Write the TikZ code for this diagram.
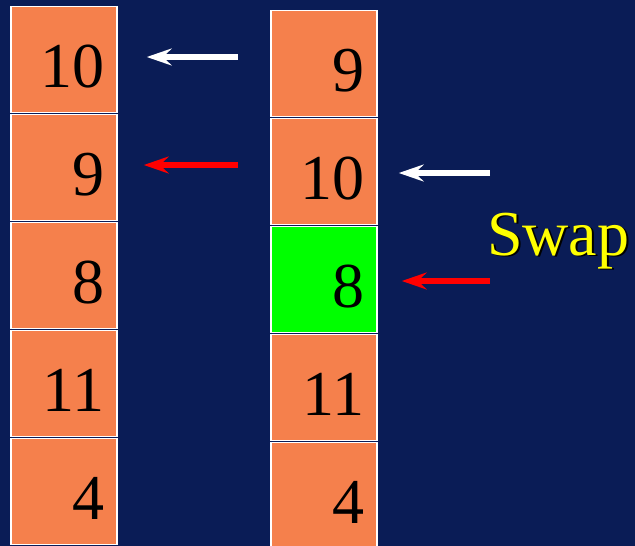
\documentclass[tikz,border=0pt]{standalone}
\usepackage{fontspec}
\setmainfont{Liberation Serif}
\usetikzlibrary{arrows.meta,positioning,calc}
\definecolor{navy}      {HTML}{0A1C56}
\definecolor{cell}      {HTML}{F5804C}
\definecolor{pick}      {HTML}{00FF00}
\definecolor{swapyellow}{HTML}{FFFF00}

\tikzset{
  cellbox/.style={draw=white, line width=1.5pt, fill=cell,
    text width=80pt, align=right, inner xsep=13pt, inner ysep=0pt,
    text height=81pt, text depth=25pt, font=\fontsize{64}{70}\selectfont},
  ptr/.style={line width=5.5pt, -{Stealth[length=25pt,width=17pt,inset=9pt]}},
  swaptext/.style={anchor=base west, inner sep=0pt,
    font=\fontsize{64}{70}\selectfont},
}

\begin{document}
\begin{tikzpicture}[x=1pt, y=-1pt, node distance=0.5pt]
  \fill[navy] (0,0) rectangle (635,546);
  \useasboundingbox (0,0) rectangle (635,546);

  % before
  \node[cellbox] (l1) at (64,59.5) {10};
  \node[cellbox, below=of l1] (l2) {9};
  \node[cellbox, below=of l2] (l3) {8};
  \node[cellbox, below=of l3] (l4) {11};
  \node[cellbox, below=of l4] (l5) {4};

  % after
  \node[cellbox] (r1) at (324,63.5) {9};
  \node[cellbox, below=of r1] (r2) {10};
  \node[cellbox, fill=pick, below=of r2] (r3) {8};
  \node[cellbox, below=of r3] (r4) {11};
  \node[cellbox, below=of r4] (r5) {4};

  % pointers
  \coordinate (lw) at (238,57);
  \coordinate (lr) at (238,165);
  \coordinate (rw) at (490,173);
  \coordinate (rr) at (490,281);
  \draw[ptr, white, shorten >=29pt] (lw) -- (lw -| l1.east);
  \draw[ptr, red,   shorten >=26pt] (lr) -- (lr -| l2.east);
  \draw[ptr, white, shorten >=21pt] (rw) -- (rw -| r2.east);
  \draw[ptr, red,   shorten >=24pt] (rr) -- (rr -| r3.east);

  \node[swaptext, black] (swapshade) at (489,256.5) {Swap};
  \node[swaptext, swapyellow] (swap) at (487,255) {Swap};
\end{tikzpicture}
\end{document}
